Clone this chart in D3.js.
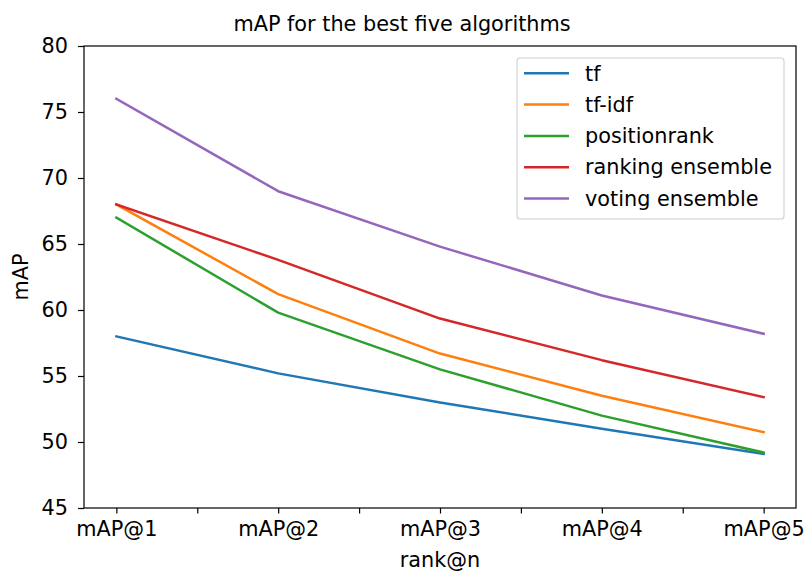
<!DOCTYPE html>
<html>
<head>
<meta charset="utf-8">
<script src="https://cdn.jsdelivr.net/npm/d3@7"></script>
<style>
body { margin: 0; background: #fff; }
svg { font-family: "DejaVu Sans", sans-serif; }
</style>
</head>
<body>
<svg id="chart" width="804" height="571"></svg>
<script>
const categories = ["mAP@1", "mAP@2", "mAP@3", "mAP@4", "mAP@5"];
const seriesNames = ["tf", "tf-idf", "positionrank", "ranking ensemble", "voting ensemble"];
const tfValues = [58.0, 55.2, 53.0, 51.0, 49.1];
const tfidfValues = [68.0, 61.2, 56.7, 53.5, 50.75];
const positionrankValues = [67.0, 59.8, 55.5, 52.0, 49.2];
const rankingValues = [68.0, 63.8, 59.35, 56.2, 53.4];
const votingValues = [76.0, 69.0, 64.8, 61.1, 58.2];
const colors = ["#1f77b4", "#ff7f0e", "#2ca02c", "#d62728", "#9467bd"];
const yTicks = [45, 50, 55, 60, 65, 70, 75, 80];
const allSeries = [tfValues, tfidfValues, positionrankValues, rankingValues, votingValues];

const svg = d3.select("#chart");
const L = 84, R = 796, T = 46, B = 508;
const FS = 20.8;

const x = d3.scaleLinear().domain([-0.2, 4.2]).range([L, R]);
const y = d3.scaleLinear().domain([45, 80]).range([B, T]);

// Title
svg.append("text").attr("x", 402).attr("y", 31).attr("text-anchor", "middle")
  .attr("font-size", 20.8).attr("fill", "#000").text("mAP for the best five algorithms");

// Lines
const line = d3.line().x((d, i) => x(i)).y(d => y(d));
allSeries.forEach((vals, k) => {
  svg.append("path").datum(vals).attr("d", line).attr("fill", "none")
    .attr("stroke", colors[k]).attr("stroke-width", 2.5).attr("stroke-linecap", "square")
    .attr("stroke-linejoin", "round");
});

// Axes
const xTickVals = d3.range(0, 4.01, 0.5);
const xAxis = d3.axisBottom(x).tickValues(xTickVals)
  .tickFormat(d => Number.isInteger(d) ? categories[d] : "").tickSizeInner(5.5).tickSizeOuter(0).tickPadding(8);
const gx = svg.append("g").attr("transform", `translate(0,${B})`).call(xAxis);
gx.select(".domain").remove();
gx.selectAll("line").attr("stroke", "#000").attr("stroke-width", 1.2);
gx.selectAll("text").attr("font-size", FS).attr("fill", "#000").attr("font-family", "DejaVu Sans");

const yAxis = d3.axisLeft(y).tickValues(yTicks).tickSizeInner(6).tickSizeOuter(0).tickPadding(10);
const gy = svg.append("g").attr("transform", `translate(${L},0)`).call(yAxis);
gy.select(".domain").remove();
gy.selectAll("line").attr("stroke", "#000").attr("stroke-width", 1.2);
gy.selectAll("text").attr("font-size", FS).attr("fill", "#000").attr("font-family", "DejaVu Sans");

// Frame
svg.append("rect").attr("x", L).attr("y", T).attr("width", R - L).attr("height", B - T)
  .attr("fill", "none").attr("stroke", "#000").attr("stroke-width", 1.2);

// Axis labels
svg.append("text").attr("x", (L + R) / 2).attr("y", 567).attr("text-anchor", "middle")
  .attr("font-size", FS).attr("fill", "#000").text("rank@n");
svg.append("text").attr("transform", `translate(28,${(T + B) / 2}) rotate(-90)`)
  .attr("text-anchor", "middle").attr("font-size", FS).attr("fill", "#000").text("mAP");

// Legend
const lg = svg.append("g");
lg.append("rect").attr("x", 517).attr("y", 58).attr("width", 267).attr("height", 161)
  .attr("rx", 3).attr("fill", "#fff").attr("fill-opacity", 0.8).attr("stroke", "#d0d0d0").attr("stroke-width", 1.1);
seriesNames.forEach((name, k) => {
  const yy = 73.3 + k * 31.3;
  lg.append("line").attr("x1", 524).attr("x2", 569).attr("y1", yy).attr("y2", yy)
    .attr("stroke", colors[k]).attr("stroke-width", 2.5);
  lg.append("text").attr("x", 585).attr("y", yy).attr("dy", "0.35em")
    .attr("font-size", FS).attr("fill", "#000").text(name);
});
</script>
</body>
</html>
